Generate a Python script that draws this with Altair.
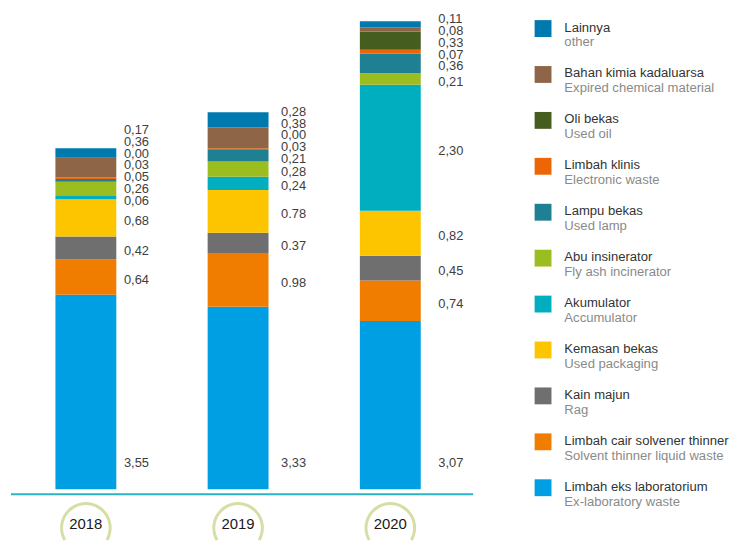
import math
import altair as alt
import pandas as pd

# ---------------- data ----------------
years = ["2018", "2019", "2020"]

# stacking order, bottom -> top
categories = [
    "Limbah eks laboratorium", "Limbah cair solvener thinner", "Kain majun",
    "Kemasan bekas", "Akumulator", "Abu insinerator", "Lampu bekas",
    "Limbah klinis", "Oli bekas", "Bahan kimia kadaluarsa", "Lainnya",
]
english = [
    "Ex-laboratory waste", "Solvent thinner liquid waste", "Rag",
    "Used packaging", "Accumulator", "Fly ash incinerator", "Used lamp",
    "Electronic waste", "Used oil", "Expired chemical material", "other",
]
colors = [
    "#009fe3", "#f07d00", "#706f6f", "#fdc500", "#00aebf", "#9bbd1f",
    "#1f7f93", "#ec6608", "#455d1f", "#8f6547", "#0079ae",
]

values_2018 = [3.55, 0.64, 0.42, 0.68, 0.06, 0.26, 0.05, 0.03, 0.00, 0.36, 0.17]
values_2019 = [3.33, 0.98, 0.37, 0.78, 0.24, 0.28, 0.21, 0.03, 0.00, 0.38, 0.28]
values_2020 = [3.07, 0.74, 0.45, 0.82, 2.30, 0.21, 0.36, 0.07, 0.33, 0.08, 0.11]

labels_2018 = ["3,55", "0,64", "0,42", "0,68", "0,06", "0,26", "0,05", "0,03", "0,00", "0,36", "0,17"]
labels_2019 = ["3,33", "0.98", "0.37", "0.78", "0,24", "0,28", "0,21", "0,03", "0,00", "0,38", "0,28"]
labels_2020 = ["3,07", "0,74", "0,45", "0,82", "2,30", "0,21", "0,36", "0,07", "0,33", "0,08", "0,11"]

# ---------------- layout constants ----------------
W = 469                  # bar panel width
H = 483                  # height from top to the bars' baseline
HT = 533                 # full bar panel height (incl. year badges row)
YMAX = 8.74              # y value at the top of the panel
k = H / YMAX             # px per unit
YMIN = -(HT - H) / k     # room below the baseline for the year badges
GAP_PX = 11.8            # minimum vertical gap between value labels

rows = []
for yr, vals, labs in zip(years, [values_2018, values_2019, values_2020],
                          [labels_2018, labels_2019, labels_2020]):
    cum = 0.0
    prev_px = None
    for i, (cat, v, lab) in enumerate(zip(categories, vals, labs)):
        y0, y1 = cum, cum + v
        cum = y1
        mid_px = (y0 + y1) / 2 * k
        if i == 0:
            lab_px = None
            prev_px = 26
        else:
            lab_px = max(mid_px, prev_px + GAP_PX)
            prev_px = lab_px
        rows.append({
            "year": yr, "cat": cat, "y0": y0, "y1": y1, "text": lab,
            "first": i == 0,
            "ly": (lab_px / k) if lab_px is not None else 0.0,
        })
df = pd.DataFrame(rows)

color_scale = alt.Scale(domain=categories, range=colors)
y_scale = alt.Scale(domain=[YMIN, YMAX], nice=False, zero=False)

bar_x = alt.Scale(type="band", domain=years, range=[3, W],
                  paddingInner=0.6, paddingOuter=0.318, align=0.459)
lab_x = alt.Scale(type="band", domain=years, range=[3, W],
                  paddingInner=0.6, paddingOuter=0.27, align=0.96)

bars = alt.Chart(df).mark_bar().encode(
    x=alt.X("year:N", scale=bar_x, sort=years, axis=None),
    y=alt.Y("y0:Q", scale=y_scale, axis=None),
    y2="y1:Q",
    color=alt.Color("cat:N", scale=color_scale, legend=None),
)

yr_df = pd.DataFrame({"year": years})

baseline = alt.Chart(yr_df.head(1)).mark_rule(
    color="#2bb3c8", strokeWidth=2
).encode(x=alt.value(3), x2=alt.value(W), y=alt.value(H + 5))

# year badge rings (cut off at the bottom edge of the picture)
badges = alt.Chart(yr_df).mark_arc(
    innerRadius=23, outerRadius=26, color="#d5dfa5",
    theta=math.radians(240), theta2=math.radians(480),
).encode(
    x=alt.X("year:N", scale=bar_x, sort=years, axis=None),
    y=alt.value(H + 39),
)
year_text = alt.Chart(yr_df).mark_text(
    fontSize=15, color="#1a1a1a", baseline="middle", font="Liberation Sans",
).encode(
    x=alt.X("year:N", scale=bar_x, sort=years, axis=None),
    y=alt.value(H + 35),
    text="year:N",
)

value_labels = alt.Chart(df[~df["first"]]).mark_text(
    align="left", baseline="middle", dy=3, fontSize=13, color="#404040",
    font="Liberation Sans",
).encode(
    x=alt.X("year:N", scale=lab_x, sort=years, axis=None),
    y=alt.Y("ly:Q", scale=y_scale, axis=None),
    text="text:N",
)

first_labels = alt.Chart(df[df["first"]]).mark_text(
    align="left", baseline="middle", dy=-26, fontSize=13, color="#404040",
    font="Liberation Sans",
).encode(
    x=alt.X("year:N", scale=lab_x, sort=years, axis=None),
    y=alt.Y("y0:Q", scale=y_scale, axis=None),
    text="text:N",
)

bar_panel = alt.layer(
    alt.layer(bars, baseline, badges, year_text),
    value_labels, first_labels,
).resolve_scale(x="independent").properties(width=W, height=HT)

# ---------------- legend panel ----------------
legend_order = categories[::-1]
leg = pd.DataFrame({"cat": categories, "en": english})
ly = alt.Y("cat:N", sort=legend_order, axis=None,
           scale=alt.Scale(type="point", range=[18.5, 481.5], padding=0))

swatch = alt.Chart(leg).mark_square(size=289, opacity=1).encode(
    y=ly, x=alt.value(69.5),
    color=alt.Color("cat:N", scale=color_scale, legend=None),
)
t1 = alt.Chart(leg).mark_text(
    align="left", baseline="middle", dy=-1, fontSize=13.2, color="#333333",
    font="Liberation Sans",
).encode(y=ly, x=alt.value(91), text="cat:N")
t2 = alt.Chart(leg).mark_text(
    align="left", baseline="middle", dy=14, fontSize=13.2, color="#8a8a8a",
    font="Liberation Sans",
).encode(y=ly, x=alt.value(91), text="en:N")

legend_panel = alt.layer(swatch, t1, t2).properties(width=240, height=H)

chart = alt.hconcat(bar_panel, legend_panel, spacing=0).properties(
    padding=0
).configure(font="Liberation Sans").configure_view(stroke=None)

chart.save("out.html", embed_options={"renderer": "svg", "actions": False})
